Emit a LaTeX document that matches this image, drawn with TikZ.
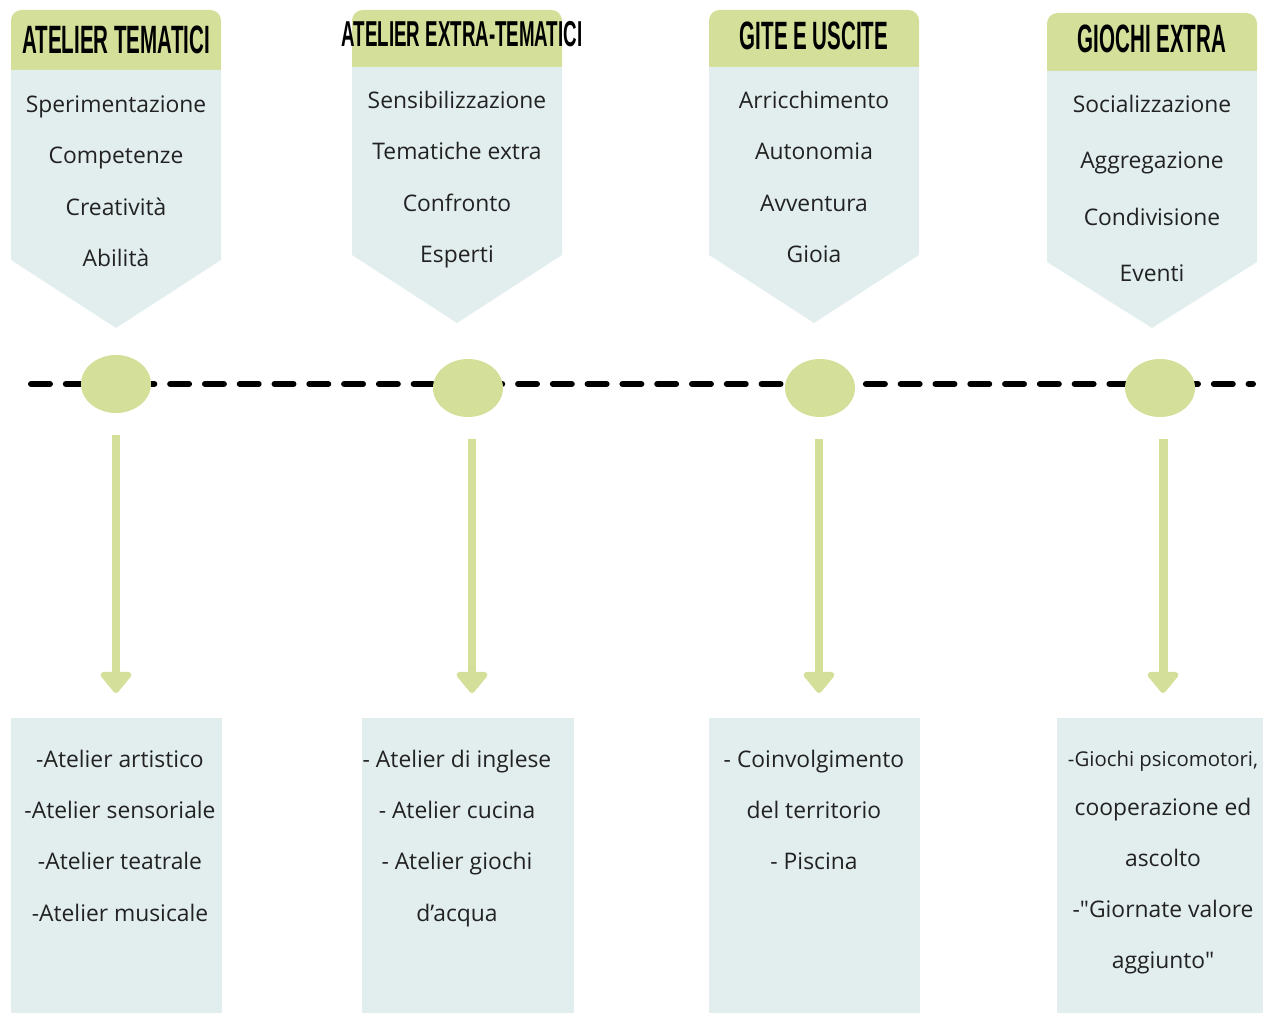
\documentclass[tikz,border=0pt]{standalone}
\usepackage{fontspec}
\setmainfont{Open Sans}[Ligatures=TeXOff]
\newfontfamily\headfont{Liberation Sans}[FakeStretch=0.52]
\usetikzlibrary{positioning,shapes.geometric,arrows.meta}
\definecolor{leaf}{RGB}{212,224,153}
\definecolor{mist}{RGB}{226,238,238}
\definecolor{ink}{RGB}{34,34,34}

\begin{document}
\begin{tikzpicture}[x=0.02cm, y=-0.02cm, text=ink, font=\fontsize{13}{16}\selectfont]
      \tikzset{
	  item/.style={inner sep=0pt, text height=8pt, text depth=2pt},
	  heading/.style={inner sep=0pt, text=black, font=\headfont\bfseries\fontsize{22.5}{26}\selectfont},
	  dot/.style={ellipse, fill=leaf, inner sep=0pt, minimum width=1.4cm, minimum height=1.16cm},
	  panel/.style={rectangle, fill=mist, anchor=north west, inner sep=0pt, minimum height=5.9cm},
	  flow/.style={draw=leaf, line width=5.1pt, -{Triangle[width=20.4pt,length=13pt,round]}, shorten <=0.44cm, shorten >=0.5cm},
	  timeline/.style={draw=black, line width=3.4pt, line cap=round, dash pattern=on 10.8pt off 9pt}
      }
      \useasboundingbox (0,0) rectangle (1263,1013);

      % pennant: left, right, top, header bottom, side bottom, tip
      \def\pennant#1#2#3#4#5#6{
	  \fill[leaf, rounded corners=6pt] (#1,#3) rectangle (#2,#4+10);
	  \fill[mist] (#1,#4) -- (#2,#4) -- (#2,#5) -- ({(#1+#2)/2},#6) -- (#1,#5) -- cycle;
      }
      \pennant{11}{221}{10}{70}{260}{328}
      \pennant{352}{562}{10}{67}{255}{323}
      \pennant{709}{919}{10}{67}{255}{323}
      \pennant{1047}{1257}{13}{71}{262}{328}

      \node[heading] (head1) at (116,40) {ATELIER TEMATICI};
      \node[heading, font=\headfont\bfseries\fontsize{20.5}{24}\selectfont] (head2) at (462,34) {ATELIER EXTRA-TEMATICI};
      \node[heading] (head3) at (814,36) {GITE E USCITE};
      \node[heading] (head4) at (1152,39) {GIOCHI EXTRA};

      \foreach \txt [count=\i from 0] in {Sperimentazione, Competenze, Creatività, Abilità}
	  \node[item] (aim1-\i) at (116,107+51.5*\i) {\txt};
      \foreach \txt [count=\i from 0] in {Sensibilizzazione, Tematiche extra, Confronto, Esperti}
	  \node[item] (aim2-\i) at (457,103+51.5*\i) {\txt};
      \foreach \txt [count=\i from 0] in {Arricchimento, Autonomia, Avventura, Gioia}
	  \node[item] (aim3-\i) at (814,103+51.5*\i) {\txt};
      \foreach \txt [count=\i from 0] in {Socializzazione, Aggregazione, Condivisione, Eventi}
	  \node[item] (aim4-\i) at (1152,107+56.5*\i) {\txt};

      % timeline
      \coordinate (tlstart) at (31,384);
      \coordinate (tlend) at (1253,384);
      \draw[timeline] (tlstart) -- (tlend);
      \node[dot] (dot1) at (116,384) {};
      \node[dot] (dot2) at (468,388) {};
      \node[dot] (dot3) at (820,388) {};
      \node[dot] (dot4) at (1160,388) {};

      \node[panel, minimum width=4.22cm] (box1) at (11,718) {};
      \node[panel, minimum width=4.24cm] (box2) at (362,718) {};
      \node[panel, minimum width=4.22cm] (box3) at (709,718) {};
      \node[panel, minimum width=4.12cm] (box4) at (1057,718) {};

      \foreach \n/\dx in {1/0,2/0.08,3/-0.02,4/0.06}
	  \draw[flow] ([xshift=\dx cm]dot\n.south) -- ([xshift=\dx cm]dot\n.south |- box\n.north);

      \foreach \txt [count=\i from 0] in {-Atelier artistico, -Atelier sensoriale, -Atelier teatrale, -Atelier musicale}
	  \node[item] (act1-\i) at (120,762+51.3*\i) {\txt};
      \foreach \txt [count=\i from 0] in {- Atelier di inglese, - Atelier cucina, - Atelier giochi, d’acqua}
	  \node[item] (act2-\i) at (457,762+51.3*\i) {\txt};
      \foreach \txt [count=\i from 0] in {- Coinvolgimento, del territorio, - Piscina}
	  \node[item] (act3-\i) at (814,762+51.3*\i) {\txt};
      \node[item, font=\fontsize{11.6}{14}\selectfont] (act4-0) at (1163,761) {-Giochi psicomotori,};
      \foreach \txt [count=\i from 1] in {cooperazione ed, ascolto, -"Giornate valore, aggiunto"}
	  \node[item] (act4-\i) at (1163,759+51*\i) {\txt};
\end{tikzpicture}
\end{document}
